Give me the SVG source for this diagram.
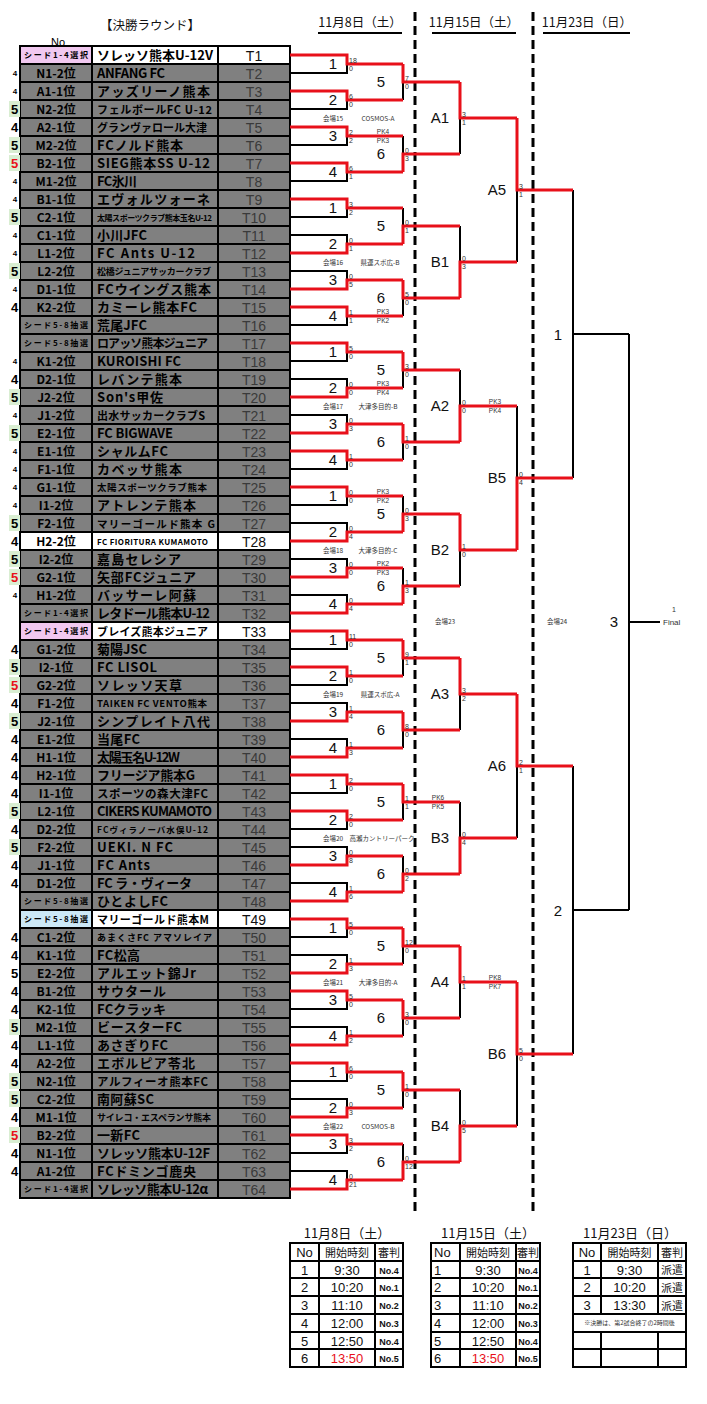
<svg xmlns="http://www.w3.org/2000/svg" xmlns:xlink="http://www.w3.org/1999/xlink" width="707" height="1404" viewBox="0 0 707 1404">
<style>
.cell{stroke:#000;stroke-width:2}
.g{fill:#808080}.w{fill:#fff}.pkc{fill:#f1c8f0}.blc{fill:#cce8f6}
.c1{font:bold 12px "Noto Sans CJK JP",sans-serif;text-anchor:middle;fill:#000}
.sd{font:bold 8px "Noto Sans CJK JP",sans-serif;text-anchor:middle;fill:#000}
.nm{font:bold 13px "Noto Sans CJK JP",sans-serif;fill:#000}
.tn{font:14px "Liberation Sans",sans-serif;fill:#3a3a3a;text-anchor:middle}
.tnw{font:14px "Liberation Sans",sans-serif;fill:#111;text-anchor:middle}
.lm{font:bold 13px "Liberation Sans",sans-serif;text-anchor:middle;fill:#000}
.ls{font:bold 8px "Liberation Sans",sans-serif;text-anchor:middle;fill:#000}
.r{fill:none;stroke:#e8101a;stroke-width:3}
.k{fill:none;stroke:#000;stroke-width:2}
.ml{font:15px "Liberation Sans",sans-serif;text-anchor:middle;fill:#111}
.sc{font:7px "Liberation Sans",sans-serif;fill:#333}
.pk{font:6.5px "Liberation Sans",sans-serif;fill:#333;text-anchor:middle}
.vn{font:6.5px "Noto Sans CJK JP",sans-serif;fill:#333;text-anchor:middle}
.hd{font:12.5px "Noto Sans CJK JP",sans-serif;fill:#111;text-anchor:middle}
.dash{stroke:#000;stroke-width:3;stroke-dasharray:9 5}
.tb{fill:#fff;stroke:#000;stroke-width:2}
.tl{stroke:#000;stroke-width:2}
.tt{font:13px "Noto Sans CJK JP",sans-serif;fill:#111;text-anchor:middle}
.th{font:11px "Noto Sans CJK JP",sans-serif;fill:#111;text-anchor:middle}
.tv{font:13px "Liberation Sans",sans-serif;fill:#111;text-anchor:middle}
.tvl{font:13px "Liberation Sans",sans-serif;fill:#111}
.tr{font:bold 9px "Liberation Sans",sans-serif;fill:#111;text-anchor:middle}
.red{fill:#e8101a}
</style>
<defs>
<g id="rg"><rect class="cell g" x="20" y="0" width="72" height="18"/><rect class="cell g" x="92" y="0" width="126" height="18"/><rect class="cell g" x="218" y="0" width="72" height="18"/></g>
<g id="rw"><rect class="cell w" x="92" y="0" width="126" height="18"/><rect class="cell w" x="218" y="0" width="72" height="18"/></g>
<g id="m5g"><rect x="9" y="1" width="11" height="16" fill="#d9eed2"/><text class="lm" x="14.5" y="14">5</text></g>
<g id="m5r"><rect x="9" y="1" width="11" height="16" fill="#d9eed2"/><text class="lm" x="14.5" y="14" style="fill:#e8101a">5</text></g>
<g id="m5p"><text class="lm" x="14.5" y="14">5</text></g>
<g id="m4l"><text class="lm" x="14.5" y="14">4</text></g>
<g id="m4s"><text class="ls" x="15" y="12">4</text></g>
</defs>
<rect width="707" height="1404" fill="#fff"/>

<g id="headers">
<text class="hd" x="150" y="30" textLength="100">【決勝ラウンド】</text>
<text x="58" y="45.5" style="font:11px 'Liberation Sans',sans-serif;text-anchor:middle">No</text>
<text class="hd" x="360" y="27">11月8日（土）</text>
<line x1="318" y1="33" x2="402" y2="33" class="tl"/>
<text class="hd" x="474" y="27">11月15日（土）</text>
<line x1="432" y1="33" x2="516" y2="33" class="tl"/>
<text class="hd" x="587" y="27">11月23日（日）</text>
<line x1="543" y1="33" x2="630" y2="33" class="tl"/>
<line x1="415" y1="12" x2="415" y2="1212" class="dash"/>
<line x1="533" y1="12" x2="533" y2="1212" class="dash"/>
</g>

<g id="teams">
<g id="T1" transform="translate(0,46)"><rect class="cell pkc" x="20" y="0" width="72" height="18"/><use href="#rw"/><text class="sd" x="56" y="12" textLength="64">シード1-4選択</text><text class="nm" x="97" y="14" textLength="116">ソレッソ熊本U-12V</text><text class="tnw" x="254" y="14.5">T1</text></g>
<g id="T2" transform="translate(0,64)"><use href="#rg"/><use href="#m4s"/><text class="c1" x="56" y="13.5">N1-2位</text><text class="nm" x="97" y="14" textLength="68">ANFANG FC</text><text class="tn" x="254" y="14.5">T2</text></g>
<g id="T3" transform="translate(0,82)"><use href="#rg"/><use href="#m4s"/><text class="c1" x="56" y="13.5">A1-1位</text><text class="nm" x="97" y="14" textLength="113">アッズリーノ熊本</text><text class="tn" x="254" y="14.5">T3</text></g>
<g id="T4" transform="translate(0,100)"><use href="#rg"/><use href="#m5g"/><text class="c1" x="56" y="13.5">N2-2位</text><text class="nm" x="97" y="13.5" style="font-size:11px" textLength="115">フェルボールFC U-12</text><text class="tn" x="254" y="14.5">T4</text></g>
<g id="T5" transform="translate(0,118)"><use href="#rg"/><use href="#m4l"/><text class="c1" x="56" y="13.5">A2-1位</text><text class="nm" x="97" y="13.5" style="font-size:11px" textLength="110">グランヴァロール大津</text><text class="tn" x="254" y="14.5">T5</text></g>
<g id="T6" transform="translate(0,136)"><use href="#rg"/><use href="#m5g"/><text class="c1" x="56" y="13.5">M2-2位</text><text class="nm" x="97" y="14" textLength="86">FCノルド熊本</text><text class="tn" x="254" y="14.5">T6</text></g>
<g id="T7" transform="translate(0,154)"><use href="#rg"/><use href="#m5r"/><text class="c1" x="56" y="13.5">B2-1位</text><text class="nm" x="97" y="14" textLength="113">SIEG熊本SS U-12</text><text class="tn" x="254" y="14.5">T7</text></g>
<g id="T8" transform="translate(0,172)"><use href="#rg"/><use href="#m4s"/><text class="c1" x="56" y="13.5">M1-2位</text><text class="nm" x="97" y="14" textLength="40">FC氷川</text><text class="tn" x="254" y="14.5">T8</text></g>
<g id="T9" transform="translate(0,190)"><use href="#rg"/><use href="#m4s"/><text class="c1" x="56" y="13.5">B1-1位</text><text class="nm" x="97" y="14" textLength="113">エヴォルツォーネ</text><text class="tn" x="254" y="14.5">T9</text></g>
<g id="T10" transform="translate(0,208)"><use href="#rg"/><use href="#m5g"/><text class="c1" x="56" y="13.5">C2-1位</text><text class="nm" x="97" y="12.5" style="font-size:8px" textLength="115">太陽スポーツクラブ熊本玉名U-12</text><text class="tn" x="254" y="14.5">T10</text></g>
<g id="T11" transform="translate(0,226)"><use href="#rg"/><use href="#m4s"/><text class="c1" x="56" y="13.5">C1-1位</text><text class="nm" x="97" y="14" textLength="50">小川JFC</text><text class="tn" x="254" y="14.5">T11</text></g>
<g id="T12" transform="translate(0,244)"><use href="#rg"/><use href="#m4s"/><text class="c1" x="56" y="13.5">L1-2位</text><text class="nm" x="97" y="14" textLength="98">FC Ants U-12</text><text class="tn" x="254" y="14.5">T12</text></g>
<g id="T13" transform="translate(0,262)"><use href="#rg"/><use href="#m5g"/><text class="c1" x="56" y="13.5">L2-2位</text><text class="nm" x="97" y="12.5" style="font-size:9px" textLength="114">松橋ジュニアサッカークラブ</text><text class="tn" x="254" y="14.5">T13</text></g>
<g id="T14" transform="translate(0,280)"><use href="#rg"/><use href="#m4s"/><text class="c1" x="56" y="13.5">D1-1位</text><text class="nm" x="97" y="14" textLength="114">FCウイングス熊本</text><text class="tn" x="254" y="14.5">T14</text></g>
<g id="T15" transform="translate(0,298)"><use href="#rg"/><use href="#m4l"/><text class="c1" x="56" y="13.5">K2-2位</text><text class="nm" x="97" y="14" textLength="100">カミーレ熊本FC</text><text class="tn" x="254" y="14.5">T15</text></g>
<g id="T16" transform="translate(0,316)"><use href="#rg"/><text class="sd" x="56" y="12" textLength="64">シード5-8抽選</text><text class="nm" x="97" y="14" textLength="50">荒尾JFC</text><text class="tn" x="254" y="14.5">T16</text></g>
<g id="T17" transform="translate(0,334)"><use href="#rg"/><text class="sd" x="56" y="12" textLength="64">シード5-8抽選</text><text class="nm" x="97" y="13.5" style="font-size:12px" textLength="111">ロアッソ熊本ジュニア</text><text class="tn" x="254" y="14.5">T17</text></g>
<g id="T18" transform="translate(0,352)"><use href="#rg"/><use href="#m4s"/><text class="c1" x="56" y="13.5">K1-2位</text><text class="nm" x="97" y="14" textLength="84">KUROISHI FC</text><text class="tn" x="254" y="14.5">T18</text></g>
<g id="T19" transform="translate(0,370)"><use href="#rg"/><use href="#m4l"/><text class="c1" x="56" y="13.5">D2-1位</text><text class="nm" x="97" y="14" textLength="85">レバンテ熊本</text><text class="tn" x="254" y="14.5">T19</text></g>
<g id="T20" transform="translate(0,388)"><use href="#rg"/><use href="#m5g"/><text class="c1" x="56" y="13.5">J2-2位</text><text class="nm" x="97" y="14" textLength="66">Son's甲佐</text><text class="tn" x="254" y="14.5">T20</text></g>
<g id="T21" transform="translate(0,406)"><use href="#rg"/><use href="#m4s"/><text class="c1" x="56" y="13.5">J1-2位</text><text class="nm" x="97" y="13.5" style="font-size:11px" textLength="108">出水サッカークラブS</text><text class="tn" x="254" y="14.5">T21</text></g>
<g id="T22" transform="translate(0,424)"><use href="#rg"/><use href="#m5g"/><text class="c1" x="56" y="13.5">E2-1位</text><text class="nm" x="97" y="14" textLength="76">FC BIGWAVE</text><text class="tn" x="254" y="14.5">T22</text></g>
<g id="T23" transform="translate(0,442)"><use href="#rg"/><use href="#m4s"/><text class="c1" x="56" y="13.5">E1-1位</text><text class="nm" x="97" y="14" textLength="71">シャルムFC</text><text class="tn" x="254" y="14.5">T23</text></g>
<g id="T24" transform="translate(0,460)"><use href="#rg"/><use href="#m4s"/><text class="c1" x="56" y="13.5">F1-1位</text><text class="nm" x="97" y="14" textLength="85">カベッサ熊本</text><text class="tn" x="254" y="14.5">T24</text></g>
<g id="T25" transform="translate(0,478)"><use href="#rg"/><use href="#m4s"/><text class="c1" x="56" y="13.5">G1-1位</text><text class="nm" x="97" y="13" style="font-size:9.5px" textLength="110">太陽スポーツクラブ熊本</text><text class="tn" x="254" y="14.5">T25</text></g>
<g id="T26" transform="translate(0,496)"><use href="#rg"/><use href="#m4s"/><text class="c1" x="56" y="13.5">I1-2位</text><text class="nm" x="97" y="14" textLength="99">アトレンテ熊本</text><text class="tn" x="254" y="14.5">T26</text></g>
<g id="T27" transform="translate(0,514)"><use href="#rg"/><use href="#m5g"/><text class="c1" x="56" y="13.5">F2-1位</text><text class="nm" x="97" y="13.5" style="font-size:10.5px" textLength="118">マリーゴールド熊本 G</text><text class="tn" x="254" y="14.5">T27</text></g>
<g id="T28" transform="translate(0,532)"><rect class="cell w" x="20" y="0" width="72" height="18"/><use href="#rw"/><use href="#m4l"/><text class="c1" x="56" y="13.5">H2-2位</text><text class="nm" x="97" y="12.5" style="font-size:8px" textLength="111">FC FIORITURA KUMAMOTO</text><text class="tnw" x="254" y="14.5">T28</text></g>
<g id="T29" transform="translate(0,550)"><use href="#rg"/><use href="#m5g"/><text class="c1" x="56" y="13.5">I2-2位</text><text class="nm" x="97" y="14" textLength="84">嘉島セレシア</text><text class="tn" x="254" y="14.5">T29</text></g>
<g id="T30" transform="translate(0,568)"><use href="#rg"/><use href="#m5r"/><text class="c1" x="56" y="13.5">G2-1位</text><text class="nm" x="97" y="14" textLength="99">矢部FCジュニア</text><text class="tn" x="254" y="14.5">T30</text></g>
<g id="T31" transform="translate(0,586)"><use href="#rg"/><use href="#m4s"/><text class="c1" x="56" y="13.5">H1-2位</text><text class="nm" x="97" y="14" textLength="99">バッサーレ阿蘇</text><text class="tn" x="254" y="14.5">T31</text></g>
<g id="T32" transform="translate(0,604)"><use href="#rg"/><text class="sd" x="56" y="12" textLength="64">シード1-4選択</text><text class="nm" x="97" y="14" textLength="113">レタドール熊本U-12</text><text class="tn" x="254" y="14.5">T32</text></g>
<g id="T33" transform="translate(0,622)"><rect class="cell pkc" x="20" y="0" width="72" height="18"/><use href="#rw"/><text class="sd" x="56" y="12" textLength="64">シード1-4選択</text><text class="nm" x="97" y="13.5" style="font-size:11px" textLength="111">ブレイズ熊本ジュニア</text><text class="tnw" x="254" y="14.5">T33</text></g>
<g id="T34" transform="translate(0,640)"><use href="#rg"/><use href="#m4l"/><text class="c1" x="56" y="13.5">G1-2位</text><text class="nm" x="97" y="14" textLength="50">菊陽JSC</text><text class="tn" x="254" y="14.5">T34</text></g>
<g id="T35" transform="translate(0,658)"><use href="#rg"/><use href="#m5g"/><text class="c1" x="56" y="13.5">I2-1位</text><text class="nm" x="97" y="14" textLength="60">FC LISOL</text><text class="tn" x="254" y="14.5">T35</text></g>
<g id="T36" transform="translate(0,676)"><use href="#rg"/><use href="#m5r"/><text class="c1" x="56" y="13.5">G2-2位</text><text class="nm" x="97" y="14" textLength="85">ソレッソ天草</text><text class="tn" x="254" y="14.5">T36</text></g>
<g id="T37" transform="translate(0,694)"><use href="#rg"/><use href="#m4l"/><text class="c1" x="56" y="13.5">F1-2位</text><text class="nm" x="97" y="13" style="font-size:9.5px" textLength="110">TAIKEN FC VENTO熊本</text><text class="tn" x="254" y="14.5">T37</text></g>
<g id="T38" transform="translate(0,712)"><use href="#rg"/><use href="#m5g"/><text class="c1" x="56" y="13.5">J2-1位</text><text class="nm" x="97" y="14" textLength="113">シンプレイト八代</text><text class="tn" x="254" y="14.5">T38</text></g>
<g id="T39" transform="translate(0,730)"><use href="#rg"/><use href="#m4l"/><text class="c1" x="56" y="13.5">E1-2位</text><text class="nm" x="97" y="14" textLength="43">当尾FC</text><text class="tn" x="254" y="14.5">T39</text></g>
<g id="T40" transform="translate(0,748)"><use href="#rg"/><use href="#m4l"/><text class="c1" x="56" y="13.5">H1-1位</text><text class="nm" x="97" y="14" textLength="83">太陽玉名U-12W</text><text class="tn" x="254" y="14.5">T40</text></g>
<g id="T41" transform="translate(0,766)"><use href="#rg"/><use href="#m4l"/><text class="c1" x="56" y="13.5">H2-1位</text><text class="nm" x="97" y="14" textLength="98">フリージア熊本G</text><text class="tn" x="254" y="14.5">T41</text></g>
<g id="T42" transform="translate(0,784)"><use href="#rg"/><use href="#m4l"/><text class="c1" x="56" y="13.5">I1-1位</text><text class="nm" x="97" y="13.5" style="font-size:11.5px" textLength="111">スポーツの森大津FC</text><text class="tn" x="254" y="14.5">T42</text></g>
<g id="T43" transform="translate(0,802)"><use href="#rg"/><use href="#m5g"/><text class="c1" x="56" y="13.5">L2-1位</text><text class="nm" x="97" y="14" textLength="115">CIKERS KUMAMOTO</text><text class="tn" x="254" y="14.5">T43</text></g>
<g id="T44" transform="translate(0,820)"><use href="#rg"/><use href="#m4l"/><text class="c1" x="56" y="13.5">D2-2位</text><text class="nm" x="97" y="12.5" style="font-size:8.5px" textLength="111">FCヴィラノーバ水俣U-12</text><text class="tn" x="254" y="14.5">T44</text></g>
<g id="T45" transform="translate(0,838)"><use href="#rg"/><use href="#m5g"/><text class="c1" x="56" y="13.5">F2-2位</text><text class="nm" x="97" y="14" textLength="76">UEKI. N FC</text><text class="tn" x="254" y="14.5">T45</text></g>
<g id="T46" transform="translate(0,856)"><use href="#rg"/><use href="#m4l"/><text class="c1" x="56" y="13.5">J1-1位</text><text class="nm" x="97" y="14" textLength="53">FC Ants</text><text class="tn" x="254" y="14.5">T46</text></g>
<g id="T47" transform="translate(0,874)"><use href="#rg"/><use href="#m4l"/><text class="c1" x="56" y="13.5">D1-2位</text><text class="nm" x="97" y="14" textLength="95">FC ラ・ヴィータ</text><text class="tn" x="254" y="14.5">T47</text></g>
<g id="T48" transform="translate(0,892)"><use href="#rg"/><text class="sd" x="56" y="12" textLength="64">シード5-8抽選</text><text class="nm" x="97" y="14" textLength="71">ひとよしFC</text><text class="tn" x="254" y="14.5">T48</text></g>
<g id="T49" transform="translate(0,910)"><rect class="cell blc" x="20" y="0" width="72" height="18"/><use href="#rw"/><text class="sd" x="56" y="12" textLength="64">シード5-8抽選</text><text class="nm" x="97" y="13.5" style="font-size:11px" textLength="112">マリーゴールド熊本M</text><text class="tnw" x="254" y="14.5">T49</text></g>
<g id="T50" transform="translate(0,928)"><use href="#rg"/><use href="#m4l"/><text class="c1" x="56" y="13.5">C1-2位</text><text class="nm" x="97" y="13" style="font-size:9px" textLength="115">あまくさFC アマソレイア</text><text class="tn" x="254" y="14.5">T50</text></g>
<g id="T51" transform="translate(0,946)"><use href="#rg"/><use href="#m4l"/><text class="c1" x="56" y="13.5">K1-1位</text><text class="nm" x="97" y="14" textLength="43">FC松高</text><text class="tn" x="254" y="14.5">T51</text></g>
<g id="T52" transform="translate(0,964)"><use href="#rg"/><use href="#m5p"/><text class="c1" x="56" y="13.5">E2-2位</text><text class="nm" x="97" y="14" textLength="99">アルエット錦Jr</text><text class="tn" x="254" y="14.5">T52</text></g>
<g id="T53" transform="translate(0,982)"><use href="#rg"/><use href="#m4l"/><text class="c1" x="56" y="13.5">B1-2位</text><text class="nm" x="97" y="14" textLength="69">サウタール</text><text class="tn" x="254" y="14.5">T53</text></g>
<g id="T54" transform="translate(0,1000)"><use href="#rg"/><use href="#m4l"/><text class="c1" x="56" y="13.5">K2-1位</text><text class="nm" x="97" y="14" textLength="69">FCクラッキ</text><text class="tn" x="254" y="14.5">T54</text></g>
<g id="T55" transform="translate(0,1018)"><use href="#rg"/><use href="#m5g"/><text class="c1" x="56" y="13.5">M2-1位</text><text class="nm" x="97" y="14" textLength="85">ビースターFC</text><text class="tn" x="254" y="14.5">T55</text></g>
<g id="T56" transform="translate(0,1036)"><use href="#rg"/><use href="#m4l"/><text class="c1" x="56" y="13.5">L1-1位</text><text class="nm" x="97" y="14" textLength="71">あさぎりFC</text><text class="tn" x="254" y="14.5">T56</text></g>
<g id="T57" transform="translate(0,1054)"><use href="#rg"/><use href="#m4l"/><text class="c1" x="56" y="13.5">A2-2位</text><text class="nm" x="97" y="14" textLength="98">エボルピア苓北</text><text class="tn" x="254" y="14.5">T57</text></g>
<g id="T58" transform="translate(0,1072)"><use href="#rg"/><use href="#m5g"/><text class="c1" x="56" y="13.5">N2-1位</text><text class="nm" x="97" y="13.5" style="font-size:11.5px" textLength="111">アルフィーオ熊本FC</text><text class="tn" x="254" y="14.5">T58</text></g>
<g id="T59" transform="translate(0,1090)"><use href="#rg"/><use href="#m5g"/><text class="c1" x="56" y="13.5">C2-2位</text><text class="nm" x="97" y="14" textLength="57">南阿蘇SC</text><text class="tn" x="254" y="14.5">T59</text></g>
<g id="T60" transform="translate(0,1108)"><use href="#rg"/><use href="#m4l"/><text class="c1" x="56" y="13.5">M1-1位</text><text class="nm" x="97" y="13" style="font-size:9px" textLength="114">サイレコ・エスペランサ熊本</text><text class="tn" x="254" y="14.5">T60</text></g>
<g id="T61" transform="translate(0,1126)"><use href="#rg"/><use href="#m5r"/><text class="c1" x="56" y="13.5">B2-2位</text><text class="nm" x="97" y="14" textLength="43">一新FC</text><text class="tn" x="254" y="14.5">T61</text></g>
<g id="T62" transform="translate(0,1144)"><use href="#rg"/><use href="#m4l"/><text class="c1" x="56" y="13.5">N1-1位</text><text class="nm" x="97" y="14" textLength="113">ソレッソ熊本U-12F</text><text class="tn" x="254" y="14.5">T62</text></g>
<g id="T63" transform="translate(0,1162)"><use href="#rg"/><use href="#m4l"/><text class="c1" x="56" y="13.5">A1-2位</text><text class="nm" x="97" y="14" textLength="99">FCドミンゴ鹿央</text><text class="tn" x="254" y="14.5">T63</text></g>
<g id="T64" transform="translate(0,1180)"><use href="#rg"/><text class="sd" x="56" y="12" textLength="64">シード1-4選択</text><text class="nm" x="97" y="14" textLength="111">ソレッソ熊本U-12α</text><text class="tn" x="254" y="14.5">T64</text></g>
</g>

<g id="connectors">
<path class="k" d="M290,73H347V64 M290,109H347V100 M290,145H347V136 M290,181H347V172 M290,217H347V208 M290,235H347V244 M290,271H347V280 M290,325H347V316 M290,361H347V352 M290,379H347V388 M290,415H347V424 M290,469H347V460 M290,505H347V496 M290,523H347V532 M290,559H347V568 M290,595H347V604 M290,649H347V640 M290,685H347V676 M290,703H347V712 M290,739H347V748 M290,793H347V784 M290,829H347V820 M290,847H347V856 M290,883H347V892 M290,937H347V928 M290,955H347V964 M290,1009H347V1000 M290,1027H347V1036 M290,1081H347V1072 M290,1099H347V1108 M290,1153H347V1144 M290,1171H347V1180"/>
<path class="k" d="M403,100V82 M403,136V154 M403,208V226 M403,316V298 M403,388V370 M403,460V442 M403,496V514 M403,568V586 M403,676V658 M403,748V730 M403,820V802 M403,856V874 M403,964V946 M403,1036V1018 M403,1108V1090 M403,1144V1162"/>
<path class="k" d="M460,154V118 M460,226V262 M460,370V406 M460,586V550 M460,730V694 M460,802V838 M460,1018V982 M460,1090V1126"/>
<path class="k" d="M517,262V190 M517,406V478 M517,838V766 M517,1126V1054"/>
<path class="k" d="M573,190V478 M573,334H629 M573,766V1054 M573,910H629 M629,334V910 M629,622H660"/>
<path class="r" d="M290,55H347V64H403 M290,91H347V100H403 M290,127H347V136H403 M290,163H347V172H403 M290,199H347V208H403 M290,253H347V244H403 M290,289H347V280H403 M290,307H347V316H403 M290,343H347V352H403 M290,397H347V388H403 M290,433H347V424H403 M290,451H347V460H403 M290,487H347V496H403 M290,541H347V532H403 M290,577H347V568H403 M290,613H347V604H403 M290,631H347V640H403 M290,667H347V676H403 M290,721H347V712H403 M290,757H347V748H403 M290,775H347V784H403 M290,811H347V820H403 M290,865H347V856H403 M290,901H347V892H403 M290,919H347V928H403 M290,973H347V964H403 M290,991H347V1000H403 M290,1045H347V1036H403 M290,1063H347V1072H403 M290,1117H347V1108H403 M290,1135H347V1144H403 M290,1189H347V1180H403"/>
<path class="r" d="M403,64V82H460 M403,172V154H460 M403,244V226H460 M403,280V298H460 M403,352V370H460 M403,424V442H460 M403,532V514H460 M403,604V586H460 M403,640V658H460 M403,712V730H460 M403,784V802H460 M403,892V874H460 M403,928V946H460 M403,1000V1018H460 M403,1072V1090H460 M403,1180V1162H460"/>
<path class="r" d="M460,82V118H517 M460,298V262H517 M460,442V406H517 M460,514V550H517 M460,658V694H517 M460,874V838H517 M460,946V982H517 M460,1162V1126H517"/>
<path class="r" d="M517,118V190H573 M517,550V478H573 M517,694V766H573 M517,982V1054H573"/>
</g>

<g id="round1">
<g id="r1m1"><text class="ml" x="333" y="69">1</text><text class="sc" x="349" y="63">18</text><text class="sc" x="349" y="71">0</text></g>
<g id="r1m2"><text class="ml" x="333" y="105">2</text><text class="sc" x="349" y="99">6</text><text class="sc" x="349" y="107">0</text></g>
<g id="r1m3"><text class="ml" x="333" y="141">3</text><text class="sc" x="349" y="135">2</text><text class="sc" x="349" y="143">2</text><text class="pk" x="383" y="133.5">PK4</text><text class="pk" x="383" y="142.5">PK3</text></g>
<g id="r1m4"><text class="ml" x="333" y="177">4</text><text class="sc" x="349" y="171">6</text><text class="sc" x="349" y="179">1</text></g>
<g id="r1m5"><text class="ml" x="333" y="213">1</text><text class="sc" x="349" y="207">3</text><text class="sc" x="349" y="215">2</text></g>
<g id="r1m6"><text class="ml" x="333" y="249">2</text><text class="sc" x="349" y="243">0</text><text class="sc" x="349" y="251">1</text></g>
<g id="r1m7"><text class="ml" x="333" y="285">3</text><text class="sc" x="349" y="279">0</text><text class="sc" x="349" y="287">5</text></g>
<g id="r1m8"><text class="ml" x="333" y="321">4</text><text class="sc" x="349" y="315">1</text><text class="sc" x="349" y="323">1</text><text class="pk" x="383" y="313.5">PK3</text><text class="pk" x="383" y="322.5">PK2</text></g>
<g id="r1m9"><text class="ml" x="333" y="357">1</text><text class="sc" x="349" y="351">5</text><text class="sc" x="349" y="359">0</text></g>
<g id="r1m10"><text class="ml" x="333" y="393">2</text><text class="sc" x="349" y="387">0</text><text class="sc" x="349" y="395">0</text><text class="pk" x="383" y="385.5">PK3</text><text class="pk" x="383" y="394.5">PK4</text></g>
<g id="r1m11"><text class="ml" x="333" y="429">3</text><text class="sc" x="349" y="423">0</text><text class="sc" x="349" y="431">3</text></g>
<g id="r1m12"><text class="ml" x="333" y="465">4</text><text class="sc" x="349" y="459">1</text><text class="sc" x="349" y="467">0</text></g>
<g id="r1m13"><text class="ml" x="333" y="501">1</text><text class="sc" x="349" y="495">0</text><text class="sc" x="349" y="503">0</text><text class="pk" x="383" y="493.5">PK3</text><text class="pk" x="383" y="502.5">PK2</text></g>
<g id="r1m14"><text class="ml" x="333" y="537">2</text><text class="sc" x="349" y="531">0</text><text class="sc" x="349" y="539">4</text></g>
<g id="r1m15"><text class="ml" x="333" y="573">3</text><text class="sc" x="349" y="567">0</text><text class="sc" x="349" y="575">0</text><text class="pk" x="383" y="565.5">PK2</text><text class="pk" x="383" y="574.5">PK3</text></g>
<g id="r1m16"><text class="ml" x="333" y="609">4</text><text class="sc" x="349" y="603">0</text><text class="sc" x="349" y="611">4</text></g>
<g id="r1m17"><text class="ml" x="333" y="645">1</text><text class="sc" x="349" y="639">11</text><text class="sc" x="349" y="647">0</text></g>
<g id="r1m18"><text class="ml" x="333" y="681">2</text><text class="sc" x="349" y="675">1</text><text class="sc" x="349" y="683">0</text></g>
<g id="r1m19"><text class="ml" x="333" y="717">3</text><text class="sc" x="349" y="711">1</text><text class="sc" x="349" y="719">4</text></g>
<g id="r1m20"><text class="ml" x="333" y="753">4</text><text class="sc" x="349" y="747">1</text><text class="sc" x="349" y="755">3</text></g>
<g id="r1m21"><text class="ml" x="333" y="789">1</text><text class="sc" x="349" y="783">2</text><text class="sc" x="349" y="791">0</text></g>
<g id="r1m22"><text class="ml" x="333" y="825">2</text><text class="sc" x="349" y="819">2</text><text class="sc" x="349" y="827">0</text></g>
<g id="r1m23"><text class="ml" x="333" y="861">3</text><text class="sc" x="349" y="855">0</text><text class="sc" x="349" y="863">8</text></g>
<g id="r1m24"><text class="ml" x="333" y="897">4</text><text class="sc" x="349" y="891">1</text><text class="sc" x="349" y="899">6</text></g>
<g id="r1m25"><text class="ml" x="333" y="933">1</text><text class="sc" x="349" y="927">5</text><text class="sc" x="349" y="935">0</text></g>
<g id="r1m26"><text class="ml" x="333" y="969">2</text><text class="sc" x="349" y="963">1</text><text class="sc" x="349" y="971">3</text></g>
<g id="r1m27"><text class="ml" x="333" y="1005">3</text><text class="sc" x="349" y="999">5</text><text class="sc" x="349" y="1007">0</text></g>
<g id="r1m28"><text class="ml" x="333" y="1041">4</text><text class="sc" x="349" y="1035">1</text><text class="sc" x="349" y="1043">2</text></g>
<g id="r1m29"><text class="ml" x="333" y="1077">1</text><text class="sc" x="349" y="1071">6</text><text class="sc" x="349" y="1079">0</text></g>
<g id="r1m30"><text class="ml" x="333" y="1113">2</text><text class="sc" x="349" y="1107">0</text><text class="sc" x="349" y="1115">3</text></g>
<g id="r1m31"><text class="ml" x="333" y="1149">3</text><text class="sc" x="349" y="1143">3</text><text class="sc" x="349" y="1151">2</text></g>
<g id="r1m32"><text class="ml" x="333" y="1185">4</text><text class="sc" x="349" y="1179">0</text><text class="sc" x="349" y="1187">21</text></g>
</g>

<g id="round2">
<g id="r2m1"><text class="ml" x="381" y="87">5</text><text class="sc" x="405" y="81">7</text><text class="sc" x="405" y="89">0</text></g>
<g id="r2m2"><text class="ml" x="381" y="159">6</text><text class="sc" x="405" y="153">0</text><text class="sc" x="405" y="161">3</text></g>
<g id="r2m3"><text class="ml" x="381" y="231">5</text><text class="sc" x="405" y="225">0</text><text class="sc" x="405" y="233">1</text></g>
<g id="r2m4"><text class="ml" x="381" y="303">6</text><text class="sc" x="405" y="297">5</text><text class="sc" x="405" y="305">0</text></g>
<g id="r2m5"><text class="ml" x="381" y="375">5</text><text class="sc" x="405" y="369">3</text><text class="sc" x="405" y="377">0</text></g>
<g id="r2m6"><text class="ml" x="381" y="447">6</text><text class="sc" x="405" y="441">1</text><text class="sc" x="405" y="449">0</text></g>
<g id="r2m7"><text class="ml" x="381" y="519">5</text><text class="sc" x="405" y="513">0</text><text class="sc" x="405" y="521">3</text></g>
<g id="r2m8"><text class="ml" x="381" y="591">6</text><text class="sc" x="405" y="585">1</text><text class="sc" x="405" y="593">3</text></g>
<g id="r2m9"><text class="ml" x="381" y="663">5</text><text class="sc" x="405" y="657">9</text><text class="sc" x="405" y="665">1</text></g>
<g id="r2m10"><text class="ml" x="381" y="735">6</text><text class="sc" x="405" y="729">8</text><text class="sc" x="405" y="737">0</text></g>
<g id="r2m11"><text class="ml" x="381" y="807">5</text><text class="sc" x="405" y="801">1</text><text class="sc" x="405" y="809">1</text><text class="pk" x="438" y="799.5">PK6</text><text class="pk" x="438" y="808.5">PK5</text></g>
<g id="r2m12"><text class="ml" x="381" y="879">6</text><text class="sc" x="405" y="873">0</text><text class="sc" x="405" y="881">2</text></g>
<g id="r2m13"><text class="ml" x="381" y="951">5</text><text class="sc" x="405" y="945">12</text><text class="sc" x="405" y="953">0</text></g>
<g id="r2m14"><text class="ml" x="381" y="1023">6</text><text class="sc" x="405" y="1017">3</text><text class="sc" x="405" y="1025">0</text></g>
<g id="r2m15"><text class="ml" x="381" y="1095">5</text><text class="sc" x="405" y="1089">1</text><text class="sc" x="405" y="1097">0</text></g>
<g id="r2m16"><text class="ml" x="381" y="1167">6</text><text class="sc" x="405" y="1161">0</text><text class="sc" x="405" y="1169">12</text></g>
</g>

<g id="round3">
<g id="A1"><text class="ml" x="440" y="123">A1</text><text class="sc" x="462" y="117">3</text><text class="sc" x="462" y="125">1</text></g>
<g id="B1"><text class="ml" x="440" y="267">B1</text><text class="sc" x="462" y="261">0</text><text class="sc" x="462" y="269">3</text></g>
<g id="A2"><text class="ml" x="440" y="411">A2</text><text class="sc" x="462" y="405">0</text><text class="sc" x="462" y="413">0</text><text class="pk" x="495" y="403.5">PK3</text><text class="pk" x="495" y="412.5">PK4</text></g>
<g id="B2"><text class="ml" x="440" y="555">B2</text><text class="sc" x="462" y="549">1</text><text class="sc" x="462" y="557">0</text></g>
<g id="A3"><text class="ml" x="440" y="699">A3</text><text class="sc" x="462" y="693">3</text><text class="sc" x="462" y="701">2</text></g>
<g id="B3"><text class="ml" x="440" y="843">B3</text><text class="sc" x="462" y="837">0</text><text class="sc" x="462" y="845">4</text></g>
<g id="A4"><text class="ml" x="440" y="987">A4</text><text class="sc" x="462" y="981">1</text><text class="sc" x="462" y="989">1</text><text class="pk" x="495" y="979.5">PK8</text><text class="pk" x="495" y="988.5">PK7</text></g>
<g id="B4"><text class="ml" x="440" y="1131">B4</text><text class="sc" x="462" y="1125">0</text><text class="sc" x="462" y="1133">5</text></g>
</g>

<g id="round4">
<g id="A5"><text class="ml" x="497" y="195">A5</text><text class="sc" x="519" y="189">3</text><text class="sc" x="519" y="197">1</text></g>
<g id="B5"><text class="ml" x="497" y="483">B5</text><text class="sc" x="519" y="477">0</text><text class="sc" x="519" y="485">4</text></g>
<g id="A6"><text class="ml" x="497" y="771">A6</text><text class="sc" x="519" y="765">2</text><text class="sc" x="519" y="773">1</text></g>
<g id="B6"><text class="ml" x="497" y="1059">B6</text><text class="sc" x="519" y="1053">5</text><text class="sc" x="519" y="1061">0</text></g>
</g>

<g id="finals">
<g id="semi1"><text class="ml" x="558" y="340">1</text></g>
<g id="semi2"><text class="ml" x="558" y="916">2</text></g>
<g id="final"><text class="ml" x="614" y="627">3</text><text class="sc" x="672" y="612">1</text><text class="sc" x="663" y="625" style="font-size:8px">Final</text></g>
</g>

<g id="venues">
<text class="vn" x="333" y="120.5">会場15</text><text class="vn" x="378" y="120.5">COSMOS-A</text>
<text class="vn" x="333" y="264.5">会場16</text><text class="vn" x="380" y="264.5">県運スポ広-B</text>
<text class="vn" x="333" y="408.5">会場17</text><text class="vn" x="378" y="408.5">大津多目的-B</text>
<text class="vn" x="333" y="552.5">会場18</text><text class="vn" x="378" y="552.5">大津多目的-C</text>
<text class="vn" x="333" y="696.5">会場19</text><text class="vn" x="380" y="696.5">県運スポ広-A</text>
<text class="vn" x="333" y="840.5">会場20</text><text class="vn" x="382" y="840.5">高瀬カントリーパーク</text>
<text class="vn" x="333" y="984.5">会場21</text><text class="vn" x="378" y="984.5">大津多目的-A</text>
<text class="vn" x="333" y="1128.5">会場22</text><text class="vn" x="378" y="1128.5">COSMOS-B</text>
<text class="vn" x="445" y="623.5">会場23</text>
<text class="vn" x="557" y="623.5">会場24</text>
</g>

<g id="schedule1">
<text class="tt" x="347" y="1238">11月8日（土）</text>
<rect class="tb" x="290" y="1243" width="113" height="124"/>
<path class="tl" d="M290,1261H403 M290,1278H403 M290,1296H403 M290,1314H403 M290,1332H403 M290,1349H403 M319,1243V1367 M375,1243V1367"/>
<text class="tv" x="304.5" y="1257">No</text><text class="th" x="347" y="1256.5">開始時刻</text><text class="th" x="389" y="1256.5">審判</text>
<text class="tv" x="304.5" y="1274.5">1</text><text class="tv" x="347" y="1274.5">9:30</text><text class="tr" x="389" y="1273.5">No.4</text>
<text class="tv" x="304.5" y="1292">2</text><text class="tv" x="347" y="1292">10:20</text><text class="tr" x="389" y="1291">No.1</text>
<text class="tv" x="304.5" y="1310">3</text><text class="tv" x="347" y="1310">11:10</text><text class="tr" x="389" y="1309">No.2</text>
<text class="tv" x="304.5" y="1328">4</text><text class="tv" x="347" y="1328">12:00</text><text class="tr" x="389" y="1327">No.3</text>
<text class="tv" x="304.5" y="1345.5">5</text><text class="tv" x="347" y="1345.5">12:50</text><text class="tr" x="389" y="1344.5">No.4</text>
<text class="tv" x="304.5" y="1363">6</text><text class="tv red" x="347" y="1363">13:50</text><text class="tr" x="389" y="1362">No.5</text>
</g>

<g id="schedule2">
<text class="tt" x="488" y="1238">11月15日（土）</text>
<rect class="tb" x="431" y="1243" width="109" height="124"/>
<path class="tl" d="M431,1261H540 M431,1278H540 M431,1296H540 M431,1314H540 M431,1332H540 M431,1349H540 M460,1243V1367 M516,1243V1367"/>
<text class="tvl" x="434" y="1257">No</text><text class="th" x="488" y="1256.5">開始時刻</text><text class="th" x="528" y="1256.5">審判</text>
<text class="tvl" x="434" y="1274.5">1</text><text class="tv" x="488" y="1274.5">9:30</text><text class="tr" x="528" y="1273.5">No.4</text>
<text class="tvl" x="434" y="1292">2</text><text class="tv" x="488" y="1292">10:20</text><text class="tr" x="528" y="1291">No.1</text>
<text class="tvl" x="434" y="1310">3</text><text class="tv" x="488" y="1310">11:10</text><text class="tr" x="528" y="1309">No.2</text>
<text class="tvl" x="434" y="1328">4</text><text class="tv" x="488" y="1328">12:00</text><text class="tr" x="528" y="1327">No.3</text>
<text class="tvl" x="434" y="1345.5">5</text><text class="tv" x="488" y="1345.5">12:50</text><text class="tr" x="528" y="1344.5">No.4</text>
<text class="tvl" x="434" y="1363">6</text><text class="tv red" x="488" y="1363">13:50</text><text class="tr" x="528" y="1362">No.5</text>
</g>

<g id="schedule3">
<text class="tt" x="630" y="1238">11月23日（日）</text>
<rect class="tb" x="573" y="1243" width="113" height="124"/>
<path class="tl" d="M573,1261H686 M573,1278H686 M573,1296H686 M573,1314H686 M573,1332H686 M573,1349H686 M601,1243V1314 M658,1243V1314 M601,1332V1367 M658,1332V1367"/>
<text class="tv" x="587" y="1257">No</text><text class="th" x="629.5" y="1256.5">開始時刻</text><text class="th" x="672" y="1256.5">審判</text>
<text class="tv" x="587" y="1274.5">1</text><text class="tv" x="629.5" y="1274.5">9:30</text><text class="th" x="672" y="1274">派遣</text>
<text class="tv" x="587" y="1292">2</text><text class="tv" x="629.5" y="1292">10:20</text><text class="th" x="672" y="1291.5">派遣</text>
<text class="tv" x="587" y="1310">3</text><text class="tv" x="629.5" y="1310">13:30</text><text class="th" x="672" y="1309.5">派遣</text>
<text class="vn" x="629.5" y="1325" style="font-size:6px">※決勝は、第2試合終了の2時間後</text>
</g>
</svg>
